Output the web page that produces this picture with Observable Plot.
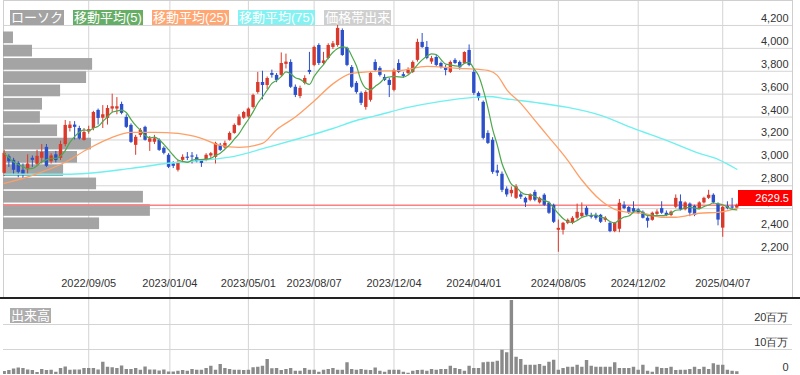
<!DOCTYPE html>
<html><head><meta charset="utf-8">
<script src="https://cdn.jsdelivr.net/npm/d3@7"></script>
<script src="https://cdn.jsdelivr.net/npm/@observablehq/plot@0.6"></script>
<style>
body{margin:0;background:#fff;font-family:"Liberation Sans",Arial,sans-serif;}
#wrap{position:relative;width:800px;height:375px;overflow:hidden;background:#fff;}
#wrap svg{position:absolute;left:0;}
.badge{position:absolute;height:15px;line-height:15px;font-size:13px;color:#fff;padding:0 1px;font-family:"Liberation Sans","Noto Sans CJK JP",sans-serif;white-space:nowrap;}
#legend{position:absolute;left:10px;top:10px;display:flex;gap:9px;z-index:5;}
#legend .badge{position:static;}
#sep{position:absolute;left:0;top:297px;width:800px;height:2px;background:#222;}
#pricebox{position:absolute;left:738px;width:54px;height:16px;line-height:16px;background:#ff0000;color:#fff;font-size:11px;text-align:right;padding-right:3px;box-sizing:border-box;z-index:6;}
</style></head>
<body>
<div id="wrap"></div>
<script>
// ---- data (weekly, starting week of 2022-05-02) ----
const open = [2909,3053,3022,2996,2935,2940,3040,2987,3040,3135,3010,3070,3040,3160,3300,3330,3300,3196,3270,3300,3458,3390,3388,3470,3470,3510,3397,3327,3153,3240,3310,3180,3180,3197,3127,3066,2990,2935,3022,3050,3060,3045,3022,3022,3060,3048,3153,3130,3197,3257,3327,3390,3400,3484,3615,3702,3676,3781,3764,3764,3860,3877,3660,3580,3694,3807,3851,4025,3868,3912,4008,4025,4156,4000,3833,3694,3607,3484,3546,3877,3825,3746,3720,3633,3868,3770,3781,3790,3895,4052,4008,3880,3920,3868,3833,3790,3895,3877,3868,3982,3790,3607,3528,3257,3197,2930,2900,2770,2730,2690,2720,2690,2673,2742,2650,2717,2647,2629,2411,2411,2472,2472,2516,2530,2603,2540,2542,2542,2498,2472,2400,2420,2630,2610,2600,2590,2568,2516,2498,2550,2600,2560,2540,2612,2660,2590,2640,2620,2600,2650,2690,2717,2640,2430,2620,2615,2605];
const high = [3110,3070,3040,3010,2990,3070,3060,3110,3160,3160,3080,3100,3190,3370,3360,3360,3320,3300,3320,3450,3470,3500,3500,3600,3570,3530,3420,3340,3240,3300,3320,3230,3240,3210,3140,3080,3010,3020,3070,3090,3090,3070,3030,3080,3090,3180,3170,3190,3270,3340,3420,3450,3480,3600,3790,3800,3750,3810,3780,3960,3950,3900,3680,3670,3760,3965,4020,4040,3965,4040,4060,4200,4170,4010,3850,3710,3620,3630,3790,3900,3840,3770,3740,3820,3900,3790,3830,3890,4080,4130,4060,3930,3940,3880,3850,3890,3910,3890,3970,4030,3820,3620,3540,3280,3220,2980,2920,2790,2790,2810,2740,2700,2730,2760,2700,2730,2660,2640,2500,2480,2510,2530,2640,2650,2620,2560,2560,2550,2530,2480,2480,2680,2660,2620,2660,2600,2580,2530,2570,2590,2660,2580,2580,2720,2720,2660,2650,2630,2660,2700,2760,2730,2650,2620,2660,2690,2640];
const low = [2880,2960,2891,2870,2860,2890,2960,2970,2990,2960,2990,3000,3020,3140,3270,3200,3200,3190,3250,3280,3330,3300,3330,3440,3420,3420,3300,3170,3066,3220,3190,3100,3160,3100,3070,2950,2950,2920,3000,3020,2990,3000,2960,3010,3040,2990,3100,3120,3190,3250,3320,3380,3390,3470,3600,3550,3640,3740,3700,3750,3820,3650,3570,3560,3680,3770,3840,3850,3850,3900,3990,4010,3930,3840,3650,3600,3500,3460,3530,3790,3750,3710,3570,3620,3780,3740,3770,3780,3880,4000,3900,3860,3840,3820,3760,3780,3860,3810,3860,3840,3590,3540,3200,3160,2900,2880,2740,2700,2700,2680,2680,2610,2660,2660,2640,2620,2550,2470,2219,2370,2460,2460,2500,2520,2530,2510,2500,2470,2480,2390,2390,2390,2590,2550,2560,2550,2510,2430,2490,2540,2550,2530,2530,2600,2580,2580,2530,2530,2590,2640,2680,2640,2450,2350,2590,2590,2595];
const close = [3083,3010,2935,2917,2891,2990,3022,3057,3091,2970,3060,3020,3160,3327,3330,3310,3210,3266,3290,3440,3388,3420,3475,3490,3490,3432,3310,3179,3223,3284,3197,3210,3210,3109,3083,2961,2970,3004,3048,3040,3050,3010,2995,3066,3080,3170,3109,3170,3257,3327,3400,3440,3470,3589,3702,3676,3737,3764,3720,3868,3880,3660,3589,3650,3737,3790,4008,3868,3890,4025,4040,4174,3938,3851,3660,3615,3520,3615,3781,3807,3764,3720,3676,3807,3790,3755,3807,3877,4052,4008,3912,3910,3851,3833,3807,3877,3868,3830,3964,3851,3607,3563,3214,3170,2917,2910,2760,2720,2760,2790,2700,2650,2717,2673,2690,2629,2560,2481,2428,2472,2498,2516,2568,2560,2542,2525,2516,2481,2516,2400,2470,2647,2600,2560,2570,2560,2516,2490,2560,2570,2560,2540,2570,2690,2590,2650,2560,2540,2650,2690,2717,2650,2500,2612,2600,2605,2629.5];
// volume, millions of shares
const volume = [1.2,1.6,2.2,2.6,2.4,1.8,1.6,0.8,2.0,1.6,1.7,0.9,2.4,3.0,1.7,1.8,1.8,2.4,2.4,2.4,1.8,4.9,2.9,2.7,2.4,3.4,2.0,2.0,2.4,1.7,3.0,1.8,1.8,1.4,1.8,1.0,1.0,1.3,1.6,1.3,2.0,1.7,1.7,2.4,3.3,1.7,4.0,2.4,2.0,1.7,1.7,1.6,1.7,2.7,2.9,3.3,6.0,2.3,2.4,1.6,2.0,2.4,1.3,1.3,2.4,1.7,1.7,0.9,1.7,2.0,2.4,1.7,1.7,4.7,2.0,1.7,2.0,1.7,1.6,2.6,1.3,0.9,1.7,1.7,1.7,0.9,0.5,1.3,1.6,1.7,1.3,2.0,1.7,2.0,2.0,3.3,2.4,2.0,1.3,3.3,2.4,2.4,4.7,4.9,4.9,5.3,9.7,8.7,29.6,6.9,6.0,3.7,3.7,3.7,4.0,3.3,4.9,5.7,1.7,2.4,2.9,2.9,3.7,2.9,5.6,3.3,2.9,2.9,2.9,2.9,4.7,2.4,2.4,2.4,2.9,1.7,3.7,1.3,0.9,2.9,2.4,2.4,2.9,1.6,1.7,1.7,2.0,2.9,2.0,2.9,2.0,4.3,3.7,3.7,1.7,1.3,1.1];
// moving averages: [week index, value]
const ma25Points = [[0,2820],[6,2891],[13,3005],[18,3125],[23,3223],[27,3266],[32,3266],[37,3257],[42,3214],[46,3153],[50,3135],[55,3170],[58,3290],[62,3400],[66,3540],[70,3690],[74,3781],[79,3800],[84,3805],[90,3842],[97,3825],[101,3816],[103,3807],[105,3764],[107,3640],[110,3520],[113,3371],[116,3223],[120,3022],[123,2850],[127,2673],[130,2594],[133,2568],[136,2560],[140,2525],[143,2525],[148,2560],[152,2568],[156,2603]];
const ma75Points = [[0,2900],[13,2900],[18,2909],[27,2952],[35,2996],[42,3022],[49,3057],[56,3135],[63,3215],[70,3300],[75,3370],[79,3410],[86,3484],[93,3537],[100,3572],[103,3580],[107,3558],[113,3528],[120,3484],[127,3415],[134,3301],[141,3197],[148,3083],[152,3031],[156,2944]];
// price-band volume (価格帯出来): band edges (yen) and volume per band (millions)
const bandEdges = [4150,4034,3918,3802,3686,3570,3454,3338,3222,3106,2990,2874,2758,2642,2526,2410];
const bandVolume = [4.3,12.5,38.4,35.8,24.6,16.8,15.9,23.3,37.9,31.9,25.9,40.1,60.3,63.3,41.4];
const tickLabels = ["2022/09/05","2023/01/04","2023/05/01","2023/08/07","2023/12/04","2024/04/01","2024/08/05","2024/12/02","2025/04/07"];
const priceTicks = [2200,2400,2600,2800,3000,3200,3400,3600,3800,4000,4200];
const volumeTicks = [0,10,20];
const legendItems = [["ローソク","#a3a3a3"],["移動平均(5)","#66ad66"],["移動平均(25)","#ffa673"],["移動平均(75)","#84f2f2"],["価格帯出来","#cfcfcf"]];

// ---- build tables ----
const start = new Date(Date.UTC(2022,4,2));
const dates = open.map((_, i) => d3.utcDay.offset(start, 7 * i));
const up = "#d93a2b", down = "#2c4fca";
const candles = dates.map((d, i) => {
  const w = close.slice(Math.max(0, i - 4), i + 1);
  return {date: d, open: open[i], high: high[i], low: low[i], close: close[i],
          ma5: d3.mean(w), color: close[i] >= open[i] ? up : down, vol: volume[i]};
});
const bands = bandVolume.map((v, i) => ({hi: bandEdges[i], lo: bandEdges[i + 1], v}));
const tickDates = tickLabels.map(s => new Date(s.replace(/\//g, "-")));
const xDomain = [new Date("2022-05-01"), new Date("2025-07-20")];
const yDomain = [1824, 4418];
const font = {background: "transparent", fontFamily: "Liberation Sans, Arial, sans-serif", fontSize: "11px"};
const common = {width: 800, height: 297, marginTop: 0, marginBottom: 0, marginLeft: 3, marginRight: 8};
const grid = "#d4d4d4";

// layer A: grid + labels
const chartA = Plot.plot({
  ...common, style: {...font, background: "#fff"},
  x: {type: "utc", domain: xDomain, axis: null},
  y: {domain: yDomain, axis: null},
  marks: [
    Plot.gridY(priceTicks, {stroke: grid, strokeOpacity: 1}),
    Plot.gridX(tickDates, {stroke: grid, strokeOpacity: 1}),
    Plot.frame({stroke: "#cfcfcf"}),
    Plot.text(priceTicks, {y: d => d, text: d => d3.format(",")(d), frameAnchor: "right", textAnchor: "end", dx: -4, dy: -7, fill: "#333", fontSize: 11}),
    Plot.text(tickDates, {x: d => d, text: (d, i) => tickLabels[i], frameAnchor: "bottom", lineAnchor: "middle", dy: -14, fill: "#333", fontSize: 11})
  ]
});
// layer B: price-band volume
const chartB = Plot.plot({
  ...common, style: font,
  x: {domain: [0, 340], axis: null},
  y: {domain: yDomain, axis: null},
  marks: [
    Plot.rectX(bands, {y1: "lo", y2: "hi", x: "v", fill: "#9f9f9f", fillOpacity: 0.95, insetTop: 0.8, insetBottom: 0.8})
  ]
});
// layer C: candles + moving averages
const chartC = Plot.plot({
  ...common, style: font,
  x: {type: "utc", domain: xDomain, axis: null},
  y: {domain: yDomain, axis: null},
  marks: [
    Plot.ruleY([close[close.length - 1]], {stroke: "#ff8080", strokeWidth: 1.6}),
    Plot.ruleX(candles, {x: "date", y1: "low", y2: "high", stroke: "color", strokeWidth: 1}),
    Plot.ruleX(candles, {x: "date", y1: "open", y2: "close", stroke: "color", strokeWidth: 3.4}),
    Plot.line(ma75Points, {x: d => dates[d[0]], y: d => d[1], stroke: "#6ff0f0", strokeWidth: 1.4, curve: "monotone-x"}),
    Plot.line(ma25Points, {x: d => dates[d[0]], y: d => d[1], stroke: "#ff9f66", strokeWidth: 1.3, curve: "monotone-x"}),
    Plot.line(candles, {x: "date", y: "ma5", stroke: "#4fa84f", strokeWidth: 1.2, curve: "monotone-x"})
  ]
});
// volume panel
const chartV = Plot.plot({
  width: 800, height: 76, marginTop: 0, marginBottom: 1, marginLeft: 3, marginRight: 8,
  style: {...font, background: "#fff"},
  x: {type: "utc", domain: xDomain, axis: null},
  y: {domain: [0, 30], axis: null},
  marks: [
    Plot.gridY([10, 20], {stroke: grid, strokeOpacity: 1}),
    Plot.gridX(tickDates, {stroke: grid, strokeOpacity: 1}),
    Plot.ruleX(candles, {x: "date", y: "vol", stroke: "#8a8a8a", strokeWidth: 3.4, clip: true}),
    Plot.text(volumeTicks, {y: d => d, text: d => d === 0 ? "0" : d + "百万", frameAnchor: "right", textAnchor: "end", dx: -4, dy: -7, fill: "#333", fontSize: 11})
  ]
});

const wrap = document.getElementById("wrap");
[chartA, chartB, chartC].forEach(c => { c.style.top = "0px"; wrap.appendChild(c); });
const sep = document.createElement("div"); sep.id = "sep"; wrap.appendChild(sep);
chartV.style.top = "299px"; wrap.appendChild(chartV);

const legend = document.createElement("div"); legend.id = "legend";
legendItems.forEach(([t, c]) => {
  const b = document.createElement("span"); b.className = "badge"; b.textContent = t; b.style.background = c; legend.appendChild(b);
});
wrap.appendChild(legend);
const vb = document.createElement("span"); vb.className = "badge"; vb.textContent = "出来高";
vb.style.background = "#adadad"; vb.style.left = "10px"; vb.style.top = "308px"; wrap.appendChild(vb);

const last = close[close.length - 1];
const box = document.createElement("div"); box.id = "pricebox"; box.textContent = String(last);
box.style.top = (chartC.scale("y").apply(last) - 15) + "px";
wrap.appendChild(box);
</script>
</body></html>
